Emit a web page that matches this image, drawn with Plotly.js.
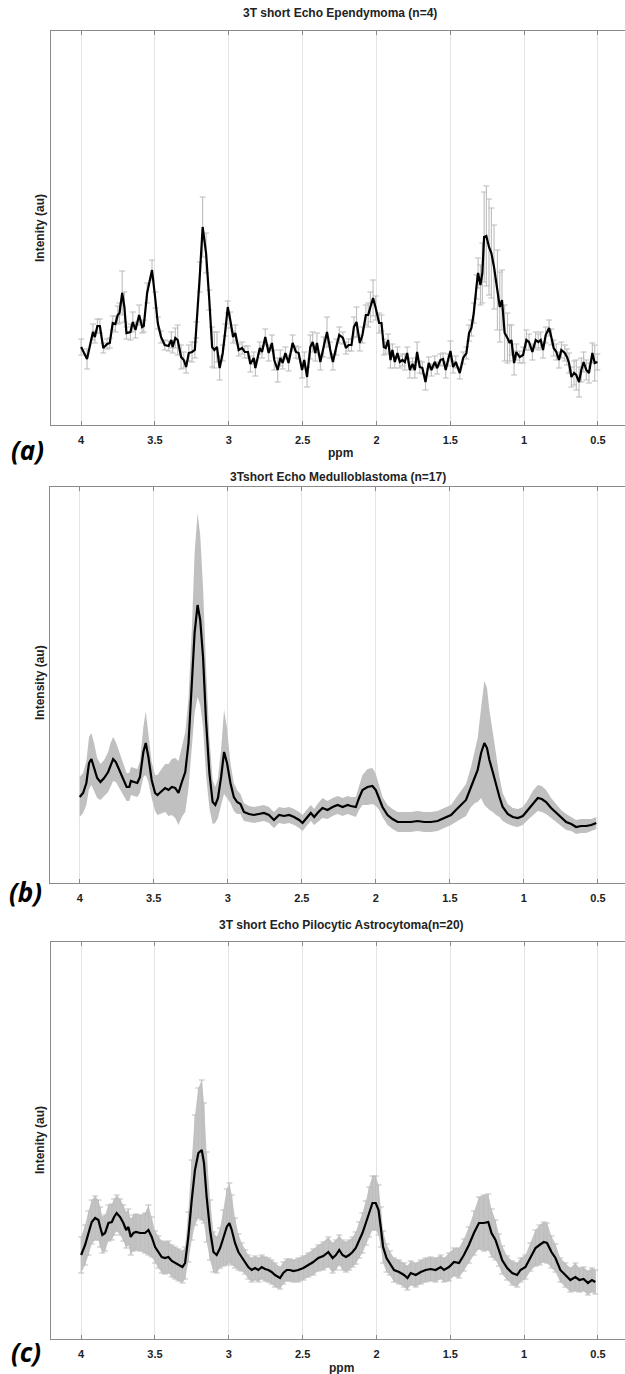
<!DOCTYPE html>
<html>
<head>
<meta charset="utf-8">
<script src="https://cdn.plot.ly/plotly-3.0.1.min.js"></script>
<style>html,body{margin:0;padding:0;background:#fff;}#chart{width:625px;height:1374px;}</style>
</head>
<body>
<div id="chart"></div>
<script>
// ---------- data (ppm, mean intensity, error) ----------
const tickVals = [4, 3.5, 3, 2.5, 2, 1.5, 1, 0.5];
const tickText = ["4", "3.5", "3", "2.5", "2", "1.5", "1", "0.5"];

const titleA = "3T short Echo Ependymoma (n=4)";
const titleB = "3Tshort Echo Medulloblastoma (n=17)";
const titleC = "3T short Echo Pilocytic Astrocytoma(n=20)";

const ppmA = [4.00,3.96,3.92,3.907,3.89,3.873,3.85,3.824,3.806,3.786,3.768,3.752,3.74,3.722,3.707,3.693,3.666,3.65,3.632,3.607,3.587,3.576,3.553,3.52,3.497,3.481,3.459,3.434,3.407,3.389,3.38,3.362,3.346,3.323,3.305,3.289,3.271,3.249,3.23,3.22,3.197,3.177,3.154,3.132,3.113,3.098,3.08,3.062,3.041,3.023,3.007,2.99,2.971,2.956,2.933,2.91,2.892,2.87,2.854,2.831,2.82,2.79,2.775,2.753,2.73,2.708,2.692,2.669,2.651,2.635,2.617,2.595,2.568,2.545,2.527,2.504,2.489,2.47,2.448,2.432,2.414,2.403,2.38,2.358,2.335,2.313,2.295,2.272,2.252,2.227,2.207,2.189,2.169,2.153,2.135,2.113,2.095,2.072,2.056,2.041,2.023,2.005,1.982,1.966,1.95,1.937,1.921,1.905,1.892,1.876,1.858,1.842,1.824,1.808,1.792,1.774,1.756,1.74,1.725,1.707,1.689,1.668,1.646,1.628,1.605,1.589,1.567,1.549,1.531,1.515,1.499,1.481,1.463,1.436,1.413,1.391,1.373,1.357,1.341,1.323,1.312,1.296,1.283,1.271,1.256,1.238,1.222,1.204,1.181,1.165,1.15,1.132,1.113,1.098,1.086,1.068,1.053,1.03,1.007,0.985,0.967,0.944,0.922,0.904,0.888,0.872,0.854,0.831,0.816,0.8,0.782,0.764,0.748,0.725,0.71,0.696,0.68,0.662,0.647,0.628,0.613,0.597,0.579,0.561,0.538,0.522,0.504];
const meanA = [78,66,93,88,99,99,77,81,82,102,101,110,112,132,118,92,93,103,95,110,98,99,132,155,125,102,88,80,79,85,78,87,85,68,65,58,72,73,75,95,148,198,172,125,78,75,78,57,72,95,118,105,88,92,75,77,73,73,61,67,57,77,73,88,72,82,65,55,67,62,72,62,82,73,72,55,65,48,78,83,72,82,63,78,93,75,63,78,90,87,77,80,80,98,103,82,90,110,110,118,127,117,102,102,78,77,85,65,75,63,72,63,65,63,72,55,61,55,73,58,57,43,62,55,63,57,65,66,55,65,74,58,63,52,67,72,92,97,112,138,152,140,152,188,189,178,172,158,135,118,125,92,87,82,85,62,73,68,70,85,83,73,85,83,85,75,90,97,88,77,73,65,75,72,68,62,48,52,50,43,55,63,55,52,72,62,63];
const errA = [8,10,8,6,7,7,5,5,5,7,8,9,10,22,15,6,8,10,8,10,6,6,10,10,8,6,6,5,5,8,6,10,15,12,8,6,8,10,8,8,15,30,20,10,20,18,15,12,8,6,6,8,6,8,6,6,6,6,8,6,8,6,6,8,8,8,10,12,8,6,6,8,8,6,6,8,8,10,12,10,8,10,8,10,15,8,8,8,8,6,6,6,6,10,15,8,8,10,12,15,18,12,10,8,8,6,6,8,6,6,6,6,6,8,6,8,6,8,10,6,6,8,6,6,6,6,6,6,8,6,10,6,6,6,6,6,8,8,10,12,15,20,30,45,50,48,45,42,40,35,30,28,25,18,15,12,8,6,8,10,8,8,8,8,8,8,8,8,8,8,8,8,8,8,8,10,10,12,15,15,12,10,10,10,10,18,8,6];

const ppmB = [4.00,3.977,3.955,3.937,3.921,3.903,3.882,3.86,3.835,3.808,3.792,3.774,3.756,3.733,3.706,3.683,3.665,3.654,3.633,3.611,3.593,3.57,3.554,3.536,3.514,3.491,3.475,3.452,3.423,3.40,3.378,3.355,3.333,3.31,3.287,3.265,3.242,3.224,3.204,3.186,3.167,3.147,3.124,3.102,3.084,3.066,3.045,3.025,3.005,2.982,2.959,2.937,2.914,2.891,2.857,2.824,2.79,2.756,2.722,2.688,2.654,2.62,2.586,2.552,2.518,2.495,2.462,2.439,2.416,2.394,2.36,2.326,2.292,2.258,2.224,2.19,2.169,2.135,2.113,2.09,2.056,2.023,2.00,1.977,1.955,1.921,1.887,1.853,1.808,1.763,1.718,1.673,1.628,1.583,1.538,1.492,1.459,1.425,1.391,1.357,1.33,1.312,1.289,1.267,1.249,1.233,1.21,1.188,1.165,1.143,1.109,1.075,1.041,1.007,0.974,0.94,0.906,0.879,0.85,0.816,0.782,0.748,0.714,0.68,0.647,0.613,0.579,0.545,0.511];
const meanB = [86,90,100,120,124,116,105,101,105,111,118,124,121,113,105,96,96,102,101,100,106,131,140,126,103,90,88,91,95,93,96,95,90,101,111,140,196,250,278,263,226,163,110,81,78,85,106,131,120,100,86,81,79,71,69,68,69,70,68,63,68,67,68,66,63,60,66,70,66,70,75,73,76,78,76,78,77,76,85,93,96,97,93,85,76,68,64,61,61,61,62,61,61,62,65,68,73,78,83,96,106,113,130,140,135,123,111,98,86,76,69,66,65,67,73,80,85,84,81,75,70,65,61,59,56,57,57,58,60];
const errB = [20,20,22,26,26,24,20,18,18,20,22,22,20,18,16,14,14,14,14,14,16,25,32,25,18,18,20,22,24,26,28,30,32,35,40,45,60,80,92,85,70,55,35,22,18,20,28,42,35,20,14,12,10,9,8,8,8,8,8,8,8,8,8,8,8,8,8,8,8,9,10,9,9,9,9,9,9,10,12,15,18,18,16,12,10,10,10,10,10,10,10,10,10,10,10,10,12,14,16,20,26,32,45,62,60,50,40,30,20,14,10,9,9,9,10,12,13,13,12,10,9,8,8,7,7,7,7,6,6];

const ppmC = [4.00,3.973,3.95,3.928,3.905,3.883,3.871,3.856,3.838,3.815,3.792,3.777,3.759,3.736,3.714,3.695,3.68,3.664,3.646,3.628,3.601,3.567,3.544,3.522,3.499,3.477,3.454,3.432,3.409,3.386,3.364,3.341,3.314,3.296,3.274,3.251,3.229,3.206,3.183,3.168,3.15,3.127,3.104,3.082,3.059,3.037,3.014,2.996,2.98,2.958,2.935,2.913,2.89,2.868,2.845,2.822,2.80,2.777,2.755,2.732,2.71,2.687,2.653,2.631,2.608,2.586,2.563,2.529,2.495,2.462,2.428,2.394,2.36,2.326,2.297,2.275,2.252,2.23,2.207,2.185,2.162,2.14,2.117,2.095,2.072,2.05,2.027,2.005,1.986,1.971,1.955,1.932,1.91,1.881,1.847,1.813,1.79,1.768,1.734,1.70,1.667,1.633,1.599,1.565,1.543,1.509,1.475,1.441,1.408,1.374,1.34,1.306,1.273,1.243,1.221,1.194,1.171,1.149,1.115,1.081,1.047,1.025,0.991,0.957,0.923,0.896,0.867,0.845,0.815,0.788,0.755,0.721,0.687,0.653,0.626,0.597,0.568,0.541,0.518];
const meanC = [84,94,106,117,121,119,112,104,106,116,117,122,126,122,116,109,112,102,106,107,106,106,109,102,92,87,82,81,82,78,76,74,72,76,102,139,169,186,189,176,142,109,87,84,91,101,112,116,109,96,87,82,77,72,69,71,69,72,70,69,67,64,61,66,69,69,68,69,71,74,77,81,83,87,81,84,89,84,82,84,87,91,99,106,116,127,136,136,129,112,92,81,76,69,67,64,61,66,64,67,69,70,69,72,69,72,77,76,84,94,106,116,116,117,106,99,89,79,71,66,64,69,72,82,91,94,97,96,87,81,69,64,59,62,59,60,56,59,57];
const errC = [18,20,22,22,22,20,20,18,18,18,18,18,18,18,18,18,18,18,18,18,18,20,25,20,16,16,16,16,16,16,16,16,16,16,25,40,55,65,70,60,45,30,20,18,20,28,38,40,35,25,18,14,12,12,12,12,12,12,12,12,12,12,11,11,11,11,11,12,12,12,13,13,14,15,15,15,15,15,15,15,15,16,18,20,22,25,27,27,25,20,16,14,12,12,12,12,12,12,12,12,12,12,12,12,12,14,14,15,16,18,22,26,28,28,24,20,16,14,12,12,12,12,12,14,18,20,20,20,16,14,12,12,12,14,12,12,12,12,12];

// ---------- helpers ----------
const W = 625, H = 1374;
const px = x => x / W;
const py = y => 1 - y / H;
const FONT = "Arial, 'Liberation Sans', sans-serif";

function errTrace(x, y, e, xa, ya, col, thick) {
  return {x, y, xaxis: xa, yaxis: ya, type: "scatter", mode: "markers",
    marker: {size: 2, color: "rgba(0,0,0,0)"},
    error_y: {type: "data", array: e, visible: true, color: col, thickness: thick, width: 3},
    hoverinfo: "skip"};
}
function bandTraces(x, y, e, xa, ya, col) {
  const up = y.map((v, i) => v + e[i]);
  const lo = y.map((v, i) => v - e[i]);
  return [
    {x, y: up, xaxis: xa, yaxis: ya, type: "scatter", mode: "lines", line: {width: 0, color: col}, hoverinfo: "skip"},
    {x, y: lo, xaxis: xa, yaxis: ya, type: "scatter", mode: "lines", line: {width: 0, color: col}, fill: "tonexty", fillcolor: col, hoverinfo: "skip"}
  ];
}
function lineTrace(x, y, xa, ya) {
  return {x, y, xaxis: xa, yaxis: ya, type: "scatter", mode: "lines",
    line: {color: "#000", width: 2.2}, hoverinfo: "skip"};
}

const data = [
  errTrace(ppmA, meanA, errA, "x", "y", "#bcbcbc", 1.1),
  lineTrace(ppmA, meanA, "x", "y"),
  ...bandTraces(ppmB, meanB, errB, "x2", "y2", "#c0c0c0"),
  lineTrace(ppmB, meanB, "x2", "y2"),
  ...bandTraces(ppmC, meanC, errC, "x3", "y3", "#c4c4c4"),
  errTrace(ppmC, meanC, errC, "x3", "y3", "#bdbdbd", 1.0),
  lineTrace(ppmC, meanC, "x3", "y3")
];

function xAx(left, anchor) {
  return {domain: [px(left), 1], range: [4.204, 0.317], anchor,
    tickmode: "array", tickvals: tickVals, ticktext: tickText,
    ticks: "inside", ticklen: 4, tickcolor: "#8a8a8a", tickwidth: 1,
    showline: true, linecolor: "#8a8a8a", linewidth: 1, mirror: "ticks",
    showgrid: true, gridcolor: "#e4e4e4", gridwidth: 1, zeroline: false,
    ticklabelstandoff: 5,
    tickfont: {family: FONT, size: 11, color: "#222", weight: "bold"}};
}
function yAx(top, bottom, max, anchor) {
  return {domain: [py(bottom), py(top)], range: [0, max], anchor,
    showline: true, linecolor: "#8a8a8a", linewidth: 1, mirror: false,
    showticklabels: false, ticks: "", showgrid: false, zeroline: false};
}

function ann(text, x, y, size, extra) {
  return Object.assign({text, x: px(x), y: py(y), xref: "paper", yref: "paper",
    xanchor: "center", yanchor: "middle", showarrow: false,
    font: {family: FONT, size, color: "#222", weight: "bold"}}, extra || {});
}
const panelFont = {family: "'Open Sans', 'Noto Sans', sans-serif", size: 26, color: "#000", weight: "bold", style: "italic"};

const layout = {
  width: W, height: H,
  margin: {l: 0, r: 0, t: 0, b: 0},
  paper_bgcolor: "#fff", plot_bgcolor: "#fff",
  showlegend: false, hovermode: false,
  xaxis: xAx(51, "y"), yaxis: yAx(31, 425, 394, "x"),
  xaxis2: xAx(49.5, "y2"), yaxis2: yAx(487, 883, 396, "x2"),
  xaxis3: xAx(51, "y3"), yaxis3: yAx(942, 1339, 397, "x3"),
  annotations: [
    ann(titleA, 340, 13, 12),
    ann(titleB, 338, 477, 12),
    ann(titleC, 341, 925, 12),
    ann("Intenity (au)", 40, 228, 12, {textangle: -90}),
    ann("Intensity (au)", 40, 683, 12, {textangle: -90}),
    ann("Intenity (au)", 40, 1140, 12, {textangle: -90}),
    ann("ppm", 340, 453, 12),
    ann("ppm", 341, 1368, 12),
    ann("(a)", 27, 450, 26, {font: panelFont}),
    ann("(b)", 25, 892, 26, {font: panelFont}),
    ann("(c)", 26, 1352, 26, {font: panelFont})
  ]
};

Plotly.newPlot("chart", data, layout, {displayModeBar: false, staticPlot: true});
</script>
</body>
</html>
